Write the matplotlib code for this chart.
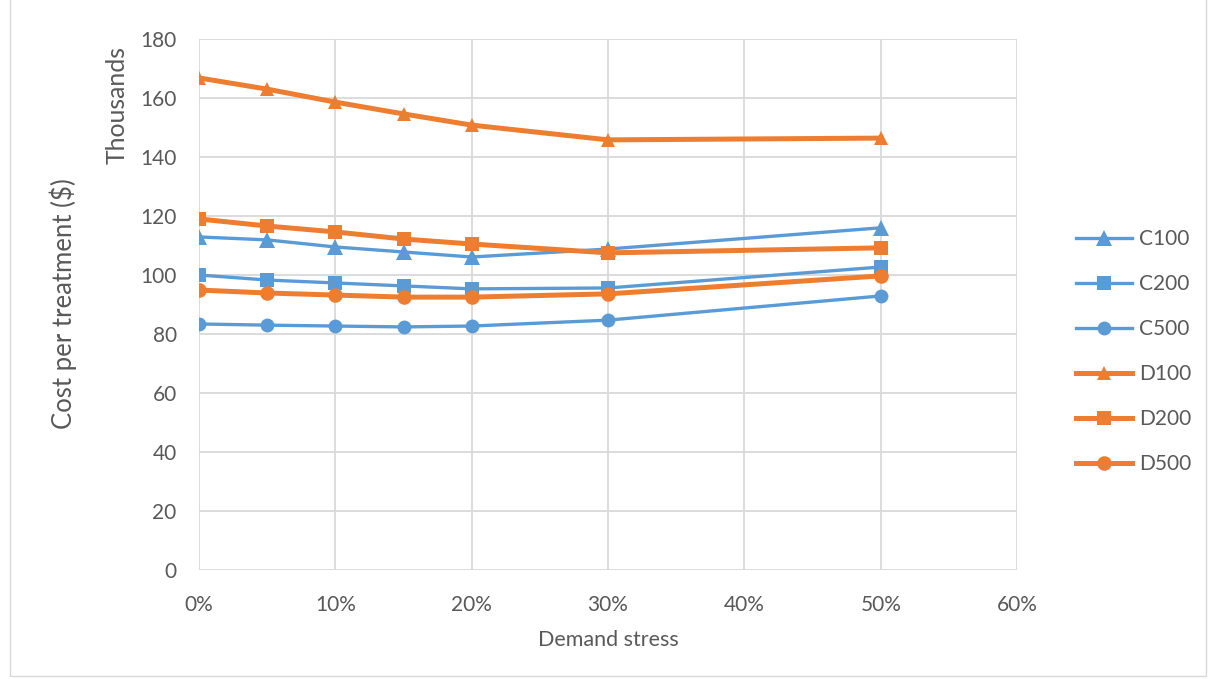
import matplotlib
matplotlib.use("Agg")
import matplotlib.pyplot as plt
from matplotlib.patches import Rectangle

x_vals = [0, 5, 10, 15, 20, 30, 50]
series_names = ["C100", "C200", "C500", "D100", "D200", "D500"]
C100 = [112.9, 111.9, 109.5, 107.8, 106.1, 108.8, 116.0]
C200 = [100.0, 98.3, 97.3, 96.3, 95.3, 95.6, 102.7]
C500 = [83.4, 83.0, 82.7, 82.4, 82.7, 84.7, 92.9]
D100 = [166.8, 163.0, 158.6, 154.6, 150.8, 145.8, 146.4]
D200 = [119.0, 116.6, 114.6, 112.2, 110.5, 107.5, 109.2]
D500 = [94.9, 93.9, 93.2, 92.5, 92.5, 93.6, 99.7]
y_ticks = [0, 20, 40, 60, 80, 100, 120, 140, 160, 180]
x_ticks = [0, 10, 20, 30, 40, 50, 60]

plt.rcParams['font.family'] = ['Lato', 'DejaVu Sans']
blue = "#5B9BD5"
orange = "#ED7D31"
text_col = "#595959"

fig = plt.figure(figsize=(12.08, 6.79), dpi=100)
ax = fig.add_axes([0.1647, 0.1605, 0.8420 - 0.1647, 0.9426 - 0.1605])

styles = [
    (C100, blue, "^", 2.4, 11),
    (C200, blue, "s", 2.4, 10),
    (C500, blue, "o", 2.4, 10),
    (D100, orange, "^", 3.6, 10),
    (D200, orange, "s", 3.6, 10.5),
    (D500, orange, "o", 3.6, 10.5),
]
for name, (vals, c, m, lw, ms) in zip(series_names, styles):
    ax.plot(x_vals, vals, color=c, marker=m, lw=lw, ms=ms, label=name,
            markeredgewidth=0, zorder=3)

ax.set_xlim(0, 60)
ax.set_ylim(0, 180)
ax.set_xticks(x_ticks)
ax.set_xticklabels([f"{t}%" for t in x_ticks])
ax.set_yticks(y_ticks)
ax.grid(True, color="#D9D9D9", lw=1.3)
ax.set_axisbelow(True)
for s in ax.spines.values():
    s.set_visible(False)
ax.tick_params(length=0, labelsize=15, colors=text_col)
ax.tick_params(axis='x', pad=18)
ax.tick_params(axis='y', pad=16)

ax.set_xlabel("Demand stress", fontsize=15.5, color=text_col, labelpad=11)
fig.text(0.052, 1 - 304 / 679, "Cost per treatment ($)", rotation=90, fontsize=18.5,
         color=text_col, ha="center", va="center")
fig.text(117 / 1208, 1 - 105 / 679, "Thousands", rotation=90, fontsize=17.8,
         color=text_col, ha="center", va="center")

leg = fig.legend(loc="upper left", bbox_to_anchor=(0.884, 0.675), frameon=False,
                 fontsize=15, labelcolor=text_col, handlelength=2.7,
                 labelspacing=1.2, handletextpad=0.3, borderaxespad=0)

fig.patches.append(Rectangle((0.008, 0.004), 0.99, 1.2, transform=fig.transFigure,
                             fill=False, edgecolor="#D9D9D9", lw=1))

fig.savefig("out.png", dpi=100)
